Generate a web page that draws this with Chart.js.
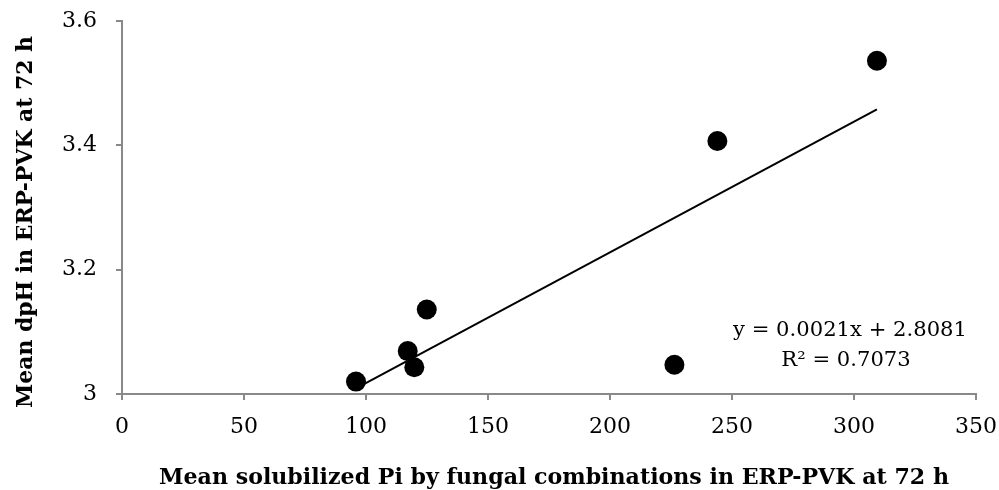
<!DOCTYPE html>
<html>
<head>
<meta charset="utf-8">
<script src="https://cdn.jsdelivr.net/npm/chart.js@4/dist/chart.umd.min.js"></script>
<style>
html,body{margin:0;padding:0;background:#fff;}
#wrap{width:999px;height:490px;position:relative;}
</style>
</head>
<body>
<div id="wrap"><canvas id="c" width="999" height="490"></canvas></div>
<script>
const xTitle = 'Mean solubilized Pi by fungal combinations in ERP-PVK at 72 h';
const yTitle = 'Mean dpH in ERP-PVK at 72 h';
const piValues = [95.9, 117.1, 119.8, 124.9, 226.4, 244.0, 309.4];
const dpHValues = [3.020, 3.069, 3.043, 3.136, 3.047, 3.407, 3.536];
const trendX = [95.9, 309.4];
const trendY = [3.009, 3.458];
const equationLines = ['y = 0.0021x + 2.8081', 'R\u00b2 = 0.7073'];
const xTicks = [0, 50, 100, 150, 200, 250, 300, 350];
const yTicks = [3, 3.2, 3.4, 3.6];

const SERIF = '"DejaVu Serif", serif';
const GRAY = '#898989';

const points = piValues.map((x, i) => ({x: x, y: dpHValues[i]}));
const trend = trendX.map((x, i) => ({x: x, y: trendY[i]}));

function fitFont(ctx, text, weight, targetWidth) {
  ctx.font = weight + ' 20px ' + SERIF;
  const w = ctx.measureText(text).width;
  const size = 20 * targetWidth / w;
  ctx.font = weight + ' ' + size.toFixed(2) + 'px ' + SERIF;
  return size;
}

const textPlugin = {
  id: 'texts',
  afterDraw(chart) {
    const ctx = chart.ctx;
    ctx.save();
    ctx.fillStyle = '#000';
    ctx.textAlign = 'center';
    ctx.textBaseline = 'alphabetic';
    // x title
    fitFont(ctx, xTitle, 'bold', 790);
    ctx.fillText(xTitle, 554, 484);
    // y title
    fitFont(ctx, yTitle, 'bold', 372);
    ctx.save();
    ctx.translate(32, 222);
    ctx.rotate(-Math.PI / 2);
    ctx.fillText(yTitle, 0, 0);
    ctx.restore();
    // equation
    fitFont(ctx, equationLines[0], 'normal', 234);
    ctx.fillText(equationLines[0], 850, 336);
    ctx.fillText(equationLines[1], 846, 366);
    ctx.restore();
  }
};

new Chart(document.getElementById('c'), {
  type: 'scatter',
  data: {
    datasets: [
      {
        label: 'trend',
        type: 'line',
        data: trend,
        borderColor: '#000',
        borderWidth: 2,
        pointRadius: 0,
        fill: false,
        order: 2
      },
      {
        label: 'data',
        data: points,
        backgroundColor: '#000',
        borderColor: '#000',
        borderWidth: 0,
        pointRadius: 10,
        pointHoverRadius: 10,
        order: 1
      }
    ]
  },
  options: {
    responsive: false,
    animation: false,
    events: [],
    layout: { padding: { left: 0, right: 23, top: 21, bottom: 0 } },
    plugins: { legend: { display: false }, tooltip: { enabled: false } },
    scales: {
      x: {
        type: 'linear',
        min: 0, max: 350,
        afterBuildTicks: s => { s.ticks = xTicks.map(v => ({value: v})); },
        afterFit: s => { s.height = 96; s.paddingLeft = 0; s.paddingRight = 0; },
        border: { color: GRAY, width: 2 },
        grid: { drawOnChartArea: false, color: GRAY, lineWidth: 2, tickLength: 6 },
        ticks: { color: '#000', font: { family: SERIF, size: 22 }, padding: 14, maxRotation: 0 }
      },
      y: {
        type: 'linear',
        min: 3, max: 3.6,
        afterBuildTicks: s => { s.ticks = yTicks.map(v => ({value: v})); },
        afterFit: s => { s.width = 122; s.paddingTop = 0; s.paddingBottom = 0; },
        border: { color: GRAY, width: 2 },
        grid: { drawOnChartArea: false, color: GRAY, lineWidth: 2, tickLength: 6 },
        ticks: { color: '#000', font: { family: SERIF, size: 22 }, padding: 19,
                 callback: v => String(Math.round(v * 10) / 10) }
      }
    }
  },
  plugins: [textPlugin]
});
</script>
</body>
</html>
